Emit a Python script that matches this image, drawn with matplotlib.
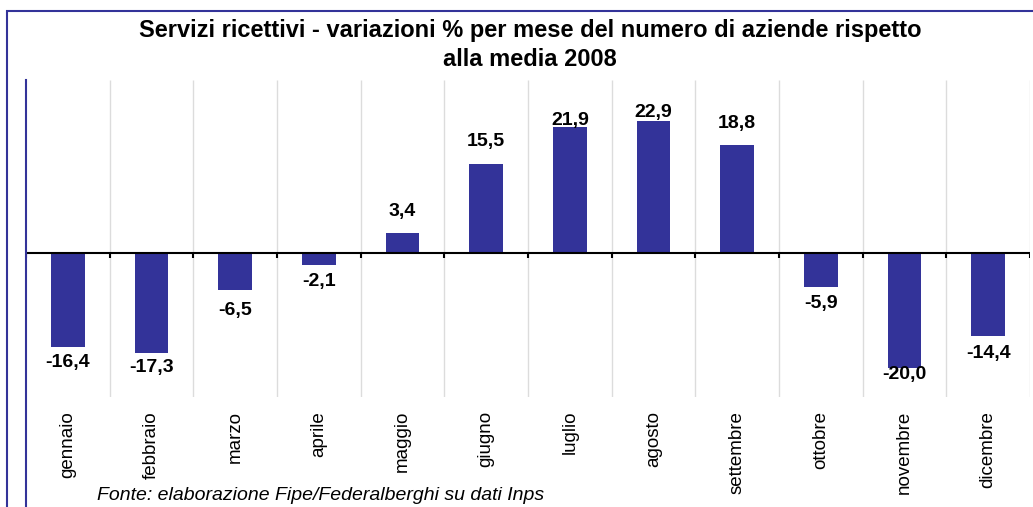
import numpy as np
import matplotlib
matplotlib.use("Agg")
import matplotlib.pyplot as plt
from matplotlib.lines import Line2D
from matplotlib.patches import Rectangle

# Data
mesi = ["gennaio", "febbraio", "marzo", "aprile", "maggio", "giugno",
        "luglio", "agosto", "settembre", "ottobre", "novembre", "dicembre"]
variazioni = [-16.4, -17.3, -6.5, -2.1, 3.4, 15.5, 21.9, 22.9, 18.8, -5.9, -20.0, -14.4]

# label distance from bar end (pixels), as in the original chart
label_gap = [15, 15, 20, 16, 22, 22, 6, 8, 21, 17, 6, 18]

plt.rcParams['font.family'] = ['Liberation Sans', 'DejaVu Sans']

W, H = 1033, 507
fig = plt.figure(figsize=(W / 100, H / 100), dpi=100)
ax = fig.add_axes([26 / W, (H - 397) / H, (1030 - 26) / W, (397 - 80) / H])

navy = "#333399"
x = np.arange(len(mesi))
ax.bar(x, variazioni, width=0.4, color=navy, zorder=3)

ax.set_xlim(-0.5, len(mesi) - 0.5)
ax.set_ylim(-25, 30)

# category separators
bounds = np.arange(len(mesi)) + 0.5
ax.vlines(bounds, -25, 30, color="#dcdcdc", lw=1, zorder=1)
ax.axhline(0, color="black", lw=1.5, zorder=4)
ax.vlines(np.append(-0.5, bounds), -0.8, 0, color="black", lw=1.5, zorder=4)

for s in ax.spines.values():
    s.set_visible(False)
ax.set_yticks([])
ax.set_xticks(x)
ax.set_xticklabels(mesi, rotation=90, fontsize=13.5)
ax.tick_params(axis="x", length=0, pad=10)

for xi, v, g in zip(x, variazioni, label_gap):
    off = g * 0.72 if v > 0 else -g * 0.72
    ax.annotate(f"{v:.1f}".replace(".", ","), (xi, v), xytext=(0, off),
                textcoords="offset points", ha="center", va="center",
                fontsize=14, fontweight="bold", zorder=5)

# left axis line and outer frame
fig.add_artist(Line2D([26 / W, 26 / W], [0, (H - 80) / H], color=navy, lw=1.5))
fig.add_artist(Rectangle((7 / W, -0.1), 1.2, (H - 11) / H + 0.1, fill=False,
                         edgecolor=navy, lw=1.5, transform=fig.transFigure))

fig.text(530 / W, 1 - 31 / H, "Servizi ricettivi - variazioni % per mese del numero di aziende rispetto",
         ha="center", va="center", fontsize=17, fontweight="bold")
fig.text(530 / W, 1 - 60 / H, "alla media 2008",
         ha="center", va="center", fontsize=17, fontweight="bold")

fig.text(97 / W, 1 - 496 / H, "Fonte: elaborazione Fipe/Federalberghi su dati Inps",
         ha="left", va="center", fontsize=14, style="italic")

fig.savefig("out.png", dpi=100)
